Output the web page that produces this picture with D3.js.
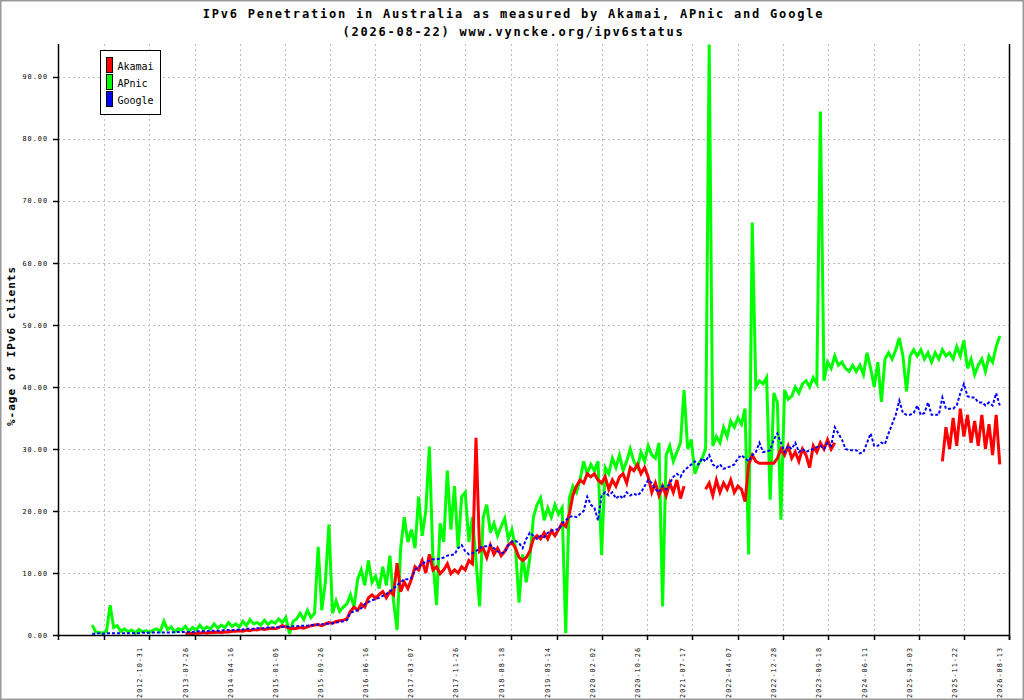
<!DOCTYPE html>
<html>
<head>
<meta charset="utf-8">
<script src="https://cdn.jsdelivr.net/npm/d3@7"></script>
<style>
  body { margin: 0; background: #fff; }
  svg { display: block; }
</style>
</head>
<body>
<div id="chart"></div>
<script>
(function () {

    // one value every 21 days, starting on this date (null = no data)
    var startDate = "2011-12-03";
    var stepDays = 21;

    var apnic = [
        1.6, 0.5, 0.4, 0.3, 0.6, 4.8, 1.2, 1.5, 0.6, 1.0,
        0.5, 0.8, 0.3, 0.9, 0.5, 0.7, 0.4, 0.8, 1.0, 0.6,
        2.2, 0.9, 1.3, 0.5, 1.0, 0.8, 1.4, 0.6, 1.2, 0.8,
        1.6, 0.9, 1.3, 1.0, 1.8, 1.1, 1.6, 1.2, 2.0, 1.4,
        1.8, 1.3, 2.2, 1.5, 2.5, 1.8, 2.0, 1.6, 2.4, 1.7,
        2.2, 1.9, 2.6, 2.0, 2.8, 0.2, 2.2, 2.6, 3.5, 2.5,
        4.0, 2.8, 3.5, 14.2, 4.0, 8.5, 17.8, 3.5, 5.5, 3.8,
        4.5, 5.0, 6.5, 4.5, 9.0, 10.5, 8.0, 12.0, 8.5, 9.5,
        7.5, 11.0, 8.0, 12.8, 5.5, 0.8, 14.0, 19.0, 15.0, 17.0,
        14.0, 22.3, 16.0, 20.0, 30.4, 12.0, 4.8, 18.0, 15.0, 26.5,
        17.0, 24.0, 14.0, 22.3, 23.0, 15.0, 19.0, 12.0, 4.6, 19.0,
        21.0, 16.5, 18.0, 16.0, 17.5, 18.8, 15.5, 17.0, 14.0, 5.2,
        13.0, 8.5, 12.5, 19.0, 21.0, 22.1, 18.5, 20.5, 19.0, 21.0,
        19.5, 20.5, 0.3, 22.0, 24.0, 23.0, 25.0, 28.0, 26.0, 27.5,
        26.5, 28.0, 12.9, 27.0, 26.0, 28.5, 27.0, 29.0, 26.5, 28.0,
        30.0, 28.0, 27.0, 29.5, 28.0, 30.5, 29.0, 28.5, 31.0, 4.6,
        29.0, 30.5, 28.0, 29.5, 31.0, 39.5, 30.0, 31.5, 26.0, 27.5,
        28.5, 30.0, 95.2, 30.5, 32.0, 31.0, 33.5, 32.0, 34.5, 33.5,
        35.0, 34.0, 36.5, 13.0, 66.5, 40.0, 41.0, 40.5, 41.5, 21.8,
        39.0, 37.5, 18.6, 39.5, 38.0, 38.5, 40.0, 39.0, 40.5, 41.0,
        40.0, 41.5, 40.5, 84.4, 41.0, 44.0, 43.0, 45.0, 43.5, 44.0,
        43.0, 42.5, 43.5, 42.5, 43.5, 42.0, 45.5, 43.0, 40.0, 44.0,
        37.6, 44.5, 45.5, 44.5, 46.0, 47.9, 45.0, 39.3, 45.0, 46.0,
        45.0, 46.0, 44.5, 45.5, 44.0, 45.5, 44.5, 46.0, 45.0, 45.5,
        44.5, 46.5, 45.0, 47.5, 43.0, 44.5, 42.0, 43.5, 44.5, 42.5,
        45.0, 44.0, 46.5, 48.2
    ];

    var akamai = [
        null, null, null, null, null, null, null, null, null, null,
        null, null, null, null, null, null, null, null, null, null,
        null, null, null, null, null, null, 0.2, 0.3, 0.2, 0.3,
        0.3, 0.4, 0.3, 0.4, 0.4, 0.5, 0.4, 0.5, 0.5, 0.6,
        0.6, 0.7, 0.6, 0.8, 0.7, 0.9, 0.8, 1.0, 0.9, 1.0,
        1.1, 1.0, 1.2, 1.5, 1.3, 1.1, 1.0, 1.1, 1.2, 1.1,
        1.3, 1.5, 1.6, 1.7, 1.5, 1.8, 2.0, 1.9, 2.2, 2.3,
        2.4, 2.6, 3.8, 4.5, 4.0, 5.0, 4.5, 6.0, 6.5, 5.9,
        6.5, 7.0, 6.0, 7.0, 6.5, 11.6, 7.0, 8.5, 7.5, 9.0,
        11.0, 10.5, 12.0, 10.0, 13.0, 10.5, 11.0, 9.9, 10.5, 11.5,
        9.9, 10.5, 10.0, 11.0, 10.5, 12.0, 11.5, 31.8, 13.5, 14.0,
        12.5, 14.5, 13.0, 14.0, 12.8, 13.5, 14.5, 15.0, 14.0, 12.5,
        12.0, 12.5, 13.5, 15.5, 16.0, 15.5, 16.5, 15.5, 16.8, 16.0,
        17.0, 18.0, 17.5, 19.5, 22.5, 24.0, 25.0, 24.5, 26.0, 25.5,
        26.0, 25.0, 24.5, 25.5, 23.5, 25.0, 24.0, 25.5, 26.0, 24.5,
        27.0, 26.5, 27.5, 26.0, 27.0, 25.5, 23.0, 24.5, 22.5, 24.0,
        22.5, 24.5, 23.0, 25.0, 22.0, 24.0, null, null, null, null,
        null, 23.5, 24.5, 22.5, 25.0, 23.0, 24.5, 23.5, 25.0, 23.0,
        24.0, 23.5, 21.5, 27.5, 29.0, 28.0, 27.7, 27.7, 27.7, 27.7,
        27.7, 28.5, 30.0, 29.0, 30.5, 28.5, 29.5, 28.0, 30.0, 29.0,
        27.0, 30.5, 29.5, 31.0, 30.0, 31.5, 30.0, 31.0, null, null,
        null, null, null, null, null, null, null, null, null, null,
        null, null, null, null, null, null, null, null, null, null,
        null, null, null, null, null, null, null, 28.0, 33.5, 30.0,
        35.0, 30.5, 36.5, 32.0, 35.5, 31.0, 34.5, 30.5, 35.5, 30.0,
        34.0, 29.0, 35.5, 27.5
    ];

    var google = [
        0.2, 0.2, 0.3, 0.2, 0.3, 0.3, 0.3, 0.3, 0.3, 0.3,
        0.3, 0.3, 0.3, 0.3, 0.4, 0.3, 0.4, 0.4, 0.4, 0.4,
        0.4, 0.4, 0.4, 0.5, 0.5, 0.5, 0.5, 0.5, 0.5, 0.6,
        0.6, 0.6, 0.6, 0.7, 0.7, 0.7, 0.7, 0.8, 0.8, 0.8,
        0.8, 0.9, 0.9, 1.0, 1.0, 1.0, 1.1, 1.1, 1.1, 1.2,
        1.2, 1.2, 1.3, 1.3, 1.4, 1.3, 1.4, 1.4, 1.5, 1.5,
        1.5, 1.6, 1.6, 1.7, 1.7, 1.8, 1.8, 1.9, 2.0, 2.1,
        2.2, 2.4, 3.6, 3.8, 4.0, 4.3, 5.0, 5.3, 5.6, 5.8,
        6.0, 6.3, 6.6, 7.0, 7.5, 8.0, 8.5, 9.0, 9.0, 9.2,
        10.5, 11.0, 11.5, 11.8, 12.0, 12.2, 12.2, 12.3, 12.5, 12.8,
        12.9, 13.0, 14.0, 14.5, 13.5, 13.0, 13.2, 13.5, 14.0, 14.3,
        14.3, 14.5, 14.0, 13.5, 13.2, 13.3, 14.5, 15.0, 15.2, 14.8,
        14.0, 15.5, 16.5, 16.0, 15.5, 16.0, 15.8, 16.5, 16.8, 17.0,
        17.0, 18.0, 18.5, 19.0, 19.2, 19.0, 19.5, 20.0, 22.3, 21.0,
        20.5, 18.5, 22.5, 23.0, 22.5, 23.0, 22.0, 22.5, 22.0, 23.0,
        22.5, 22.8, 22.5, 23.0, 24.0, 25.0, 24.5, 23.5, 23.0, 24.0,
        23.5, 24.5, 25.5, 26.0, 25.5, 26.5, 27.0, 27.5, 28.0, 27.5,
        28.5, 28.0, 29.0, 27.5, 27.0, 27.5, 26.8, 27.0, 27.2, 27.5,
        28.5, 29.0, 28.5, 28.0, 29.0, 29.5, 31.0, 29.5, 29.6, 29.8,
        31.5, 32.5, 31.0, 29.5, 30.5, 30.0, 31.0, 29.5, 30.0, 29.5,
        29.8, 30.0, 30.3, 30.5, 30.0, 31.0, 30.5, 33.5, 32.5, 31.5,
        30.0, 29.8, 29.8, 29.8, 29.3, 29.5, 31.0, 32.5, 30.5, 30.5,
        31.0, 30.8, 32.5, 34.0, 35.5, 37.8, 35.8, 35.5, 35.5, 35.8,
        37.0, 35.5, 35.8, 37.5, 35.5, 35.5, 35.5, 38.3, 36.5, 36.5,
        36.5, 37.0, 39.0, 40.5, 38.5, 38.3, 38.3, 37.5, 37.5, 37.0,
        37.5, 37.0, 39.0, 37.0
    ];

    var seriesNames = ["Akamai", "APnic", "Google"];
    var seriesColors = ["#ff0000", "#00ff00", "#0000ff"];

    // first tick has no label in the original
    var xTickDates = ["2012-02-09", "2012-10-31", "2013-07-26", "2014-04-16", "2015-01-05",
        "2015-09-26", "2016-06-16", "2017-03-07", "2017-11-26", "2018-08-18",
        "2019-05-14", "2020-02-02", "2020-10-26", "2021-07-17", "2022-04-07",
        "2022-12-28", "2023-09-18", "2024-06-11", "2025-03-03", "2025-11-22",
        "2026-08-13"];
    var yTicks = [0, 10, 20, 30, 40, 50, 60, 70, 80, 90];

    var width = 1024;
    var height = 700;
    var left = 58, right = 1009, top = 44, bottom = 635;
    var mono = "'DejaVu Sans Mono', 'Liberation Mono', monospace";

    var parseDate = d3.utcParse("%Y-%m-%d");
    var x = d3.scaleUtc()
        .domain([parseDate("2011-05-17"), parseDate("2026-08-13")])
        .range([left, right]);
    var y = d3.scaleLinear().domain([0, 95.3]).range([bottom, top]);

    var start = parseDate(startDate);
    function toPoints(values) {
        return values.map(function (v, i) {
            return { date: d3.utcDay.offset(start, i * stepDays), value: v };
        });
    }

    var svg = d3.select("#chart").append("svg")
        .attr("width", width).attr("height", height);

    // outer frame
    svg.append("rect")
        .attr("x", 0.75).attr("y", 0.75)
        .attr("width", width - 1.5).attr("height", height - 1.5)
        .attr("fill", "#fff").attr("stroke", "#9a9a9a").attr("stroke-width", 1.5);

    // grid
    svg.selectAll(".hgrid")
        .data(yTicks.filter(function (d) { return d > 0; }))
        .enter().append("line")
        .attr("x1", left).attr("x2", right)
        .attr("y1", function (d) { return Math.round(y(d)) + 0.5; })
        .attr("y2", function (d) { return Math.round(y(d)) + 0.5; })
        .attr("stroke", "#bdbdbd").attr("stroke-dasharray", "2,3");

    svg.selectAll(".vgrid")
        .data(xTickDates.slice(0, -1))
        .enter().append("line")
        .attr("x1", function (d) { return Math.round(x(parseDate(d))) + 0.5; })
        .attr("x2", function (d) { return Math.round(x(parseDate(d))) + 0.5; })
        .attr("y1", top).attr("y2", bottom)
        .attr("stroke", "#bdbdbd").attr("stroke-dasharray", "2,3");

    // series
    var line = d3.line()
        .defined(function (d) { return d.value != null; })
        .x(function (d) { return x(d.date); })
        .y(function (d) { return y(d.value); });

    svg.append("path").datum(toPoints(apnic))
        .attr("fill", "none").attr("stroke", seriesColors[1])
        .attr("stroke-width", 3)
        .attr("d", line);

    svg.append("path").datum(toPoints(akamai))
        .attr("fill", "none").attr("stroke", seriesColors[0])
        .attr("stroke-width", 3)
        .attr("d", line);

    svg.append("path").datum(toPoints(google))
        .attr("fill", "none").attr("stroke", seriesColors[2])
        .attr("stroke-width", 2).attr("stroke-dasharray", "3,2")
        .attr("d", line);

    // axes
    svg.append("line").attr("x1", left + 0.5).attr("x2", left + 0.5)
        .attr("y1", top).attr("y2", bottom + 5)
        .attr("stroke", "#000").attr("stroke-width", 1.5);
    svg.append("line").attr("x1", right + 0.5).attr("x2", right + 0.5)
        .attr("y1", top).attr("y2", bottom + 5)
        .attr("stroke", "#000").attr("stroke-width", 1.5);
    svg.append("line").attr("x1", left).attr("x2", right + 1)
        .attr("y1", bottom + 0.5).attr("y2", bottom + 0.5)
        .attr("stroke", "#000").attr("stroke-width", 1.5);

    var yAxis = svg.selectAll(".ytick").data(yTicks).enter().append("g");
    yAxis.append("line")
        .attr("x1", left - 5).attr("x2", left)
        .attr("y1", function (d) { return Math.round(y(d)) + 0.5; })
        .attr("y2", function (d) { return Math.round(y(d)) + 0.5; })
        .attr("stroke", "#000").attr("stroke-width", 1.5);
    yAxis.append("text")
        .attr("x", 48)
        .attr("y", function (d) { return y(d) + 2.6; })
        .attr("text-anchor", "end")
        .style("font-family", mono).style("font-size", "6.8px")
        .style("letter-spacing", "1px")
        .text(function (d) { return d3.format(".2f")(d); });

    var xAxis = svg.selectAll(".xtick").data(xTickDates).enter().append("g");
    xAxis.append("line")
        .attr("x1", function (d) { return Math.round(x(parseDate(d))) + 0.5; })
        .attr("x2", function (d) { return Math.round(x(parseDate(d))) + 0.5; })
        .attr("y1", bottom).attr("y2", bottom + 5)
        .attr("stroke", "#000").attr("stroke-width", 1.5);
    xAxis.filter(function (d, i) { return i > 0; }).append("text")
        .attr("transform", function (d) {
            return "translate(" + (x(parseDate(d)) - 7) + ",647) rotate(-90)";
        })
        .attr("text-anchor", "end")
        .style("font-family", mono).style("font-size", "6.8px")
        .style("letter-spacing", "1px")
        .text(function (d) { return d; });

    // titles
    svg.append("text")
        .attr("x", 513.5).attr("y", 17.5)
        .attr("text-anchor", "middle")
        .style("font-family", mono).style("font-size", "12px")
        .style("font-weight", "bold").style("letter-spacing", "1.78px")
        .text("IPv6 Penetration in Australia as measured by Akamai, APnic and Google");
    svg.append("text")
        .attr("x", 513.5).attr("y", 36)
        .attr("text-anchor", "middle")
        .style("font-family", mono).style("font-size", "12px")
        .style("font-weight", "bold").style("letter-spacing", "1.78px")
        .text("(2026-08-22) www.vyncke.org/ipv6status");

    svg.append("text")
        .attr("transform", "translate(15,346) rotate(-90)")
        .attr("text-anchor", "middle")
        .style("font-family", mono).style("font-size", "11px")
        .style("font-weight", "bold").style("letter-spacing", "1px")
        .text("%-age of IPv6 clients");

    // legend
    var legend = svg.append("g").attr("transform", "translate(100.5,50.5)");
    legend.append("rect")
        .attr("width", 60).attr("height", 64)
        .attr("fill", "#fff").attr("stroke", "#000");
    var item = legend.selectAll(".item").data(seriesNames).enter().append("g")
        .attr("transform", function (d, i) { return "translate(0," + (i * 17) + ")"; });
    item.append("rect")
        .attr("x", 6).attr("y", 7)
        .attr("width", 6).attr("height", 15)
        .attr("fill", function (d, i) { return seriesColors[i]; })
        .attr("stroke", "#000");
    item.append("text")
        .attr("x", 17).attr("y", 19.5)
        .style("font-family", mono).style("font-size", "10px")
        .text(function (d) { return d; });
})();
</script>
</body>
</html>
